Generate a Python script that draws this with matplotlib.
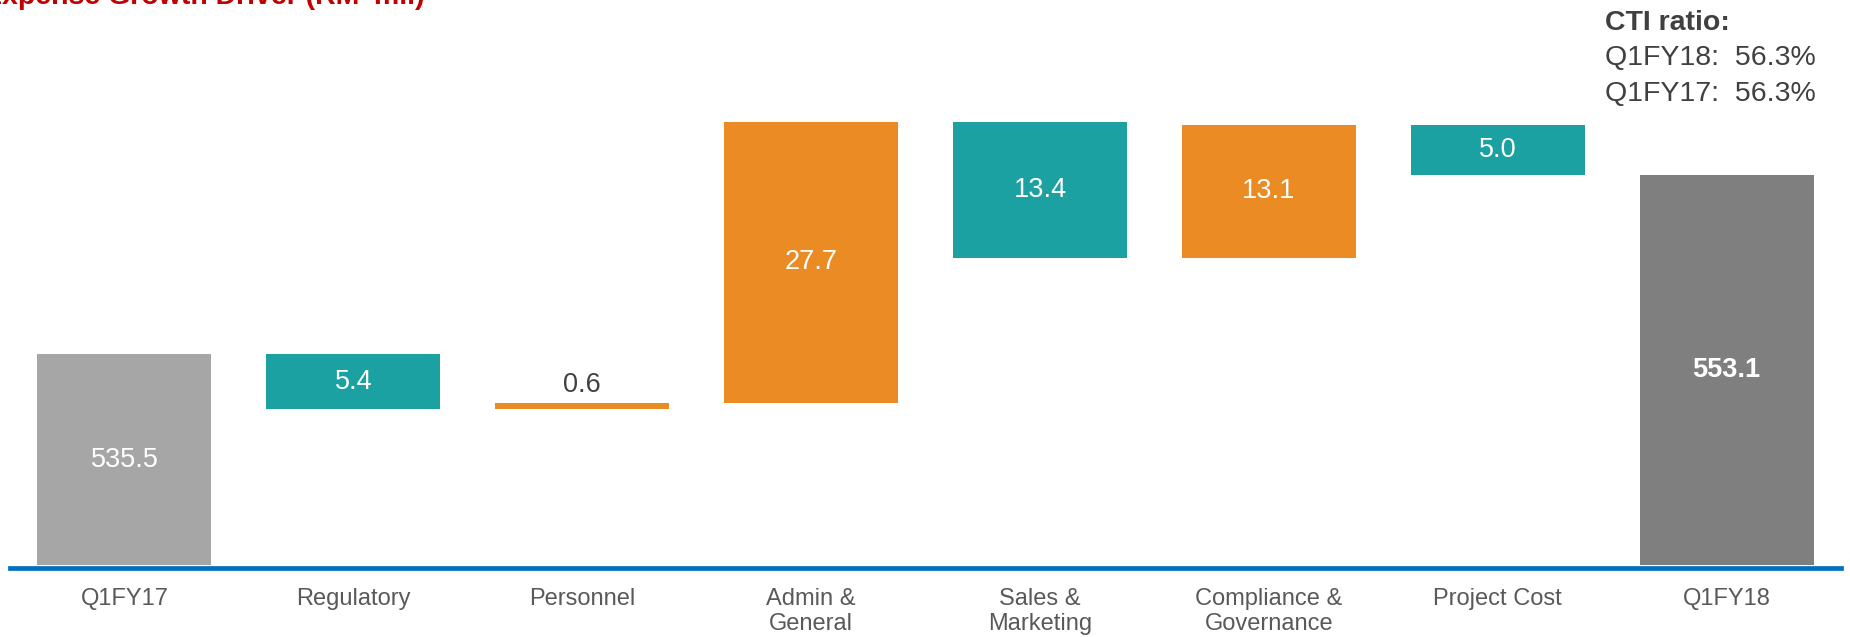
import matplotlib
matplotlib.use('Agg')
import matplotlib.pyplot as plt

plt.rcParams['font.family'] = ['Liberation Sans', 'DejaVu Sans']

categories = ['Q1FY17', 'Regulatory', 'Personnel', 'Admin &\nGeneral', 'Sales &\nMarketing',
              'Compliance &\nGovernance', 'Project Cost', 'Q1FY18']
start_value = 535.5
changes = [-5.4, 0.6, 27.7, -13.4, 13.1, -5.0]
end_value = 553.1

cti_lines = ['Q1FY18:  56.3%', 'Q1FY17:  56.3%']

GREY_START = '#A6A6A6'
GREY_END = '#7F7F7F'
TEAL = '#1BA1A1'
ORANGE = '#EB8B23'
BLUE = '#0070C0'

fig = plt.figure(figsize=(18.5, 6.37), dpi=100)
ax = fig.add_axes([10 / 1850, 1 - 565 / 637, 1831 / 1850, 565 / 637])

w = 0.76
# start bar
ax.bar(0, start_value, width=w, color=GREY_START, zorder=2)
ax.text(0, (start_value + 514.8) / 2, f'{start_value:.1f}', ha='center', va='center',
        color='white', fontsize=19.5)

# floating change bars
running = start_value
for i, d in enumerate(changes, start=1):
    lo = min(running, running + d)
    col = TEAL if d < 0 else ORANGE
    ax.bar(i, abs(d), bottom=lo, width=w, color=col, zorder=2)
    if abs(d) < 2:
        ax.annotate(f'{abs(d):.1f}', xy=(i, lo + abs(d)), xytext=(0, 8),
                    textcoords='offset points', ha='center', va='baseline',
                    color='#404040', fontsize=19.5)
    else:
        ax.text(i, lo + abs(d) / 2, f'{abs(d):.1f}', ha='center', va='center',
                color='white', fontsize=19.5)
    running += d

# end bar
n = len(categories) - 1
ax.bar(n, end_value, width=w, color=GREY_END, zorder=2)
ax.text(n, (end_value + 514.8) / 2, f'{end_value:.1f}', ha='center', va='center',
        color='white', fontsize=19.5, fontweight='bold')

ax.set_xlim(-0.5, 7.5)
ax.set_ylim(514.8, 570.35)
ax.tick_params(axis='x', length=0, pad=14.5, labelsize=17, labelcolor='#595959')
ax.set_xticks(range(len(categories)))
ax.set_xticklabels(categories, linespacing=1.3)
ax.set_yticks([])
for s in ['top', 'right', 'left']:
    ax.spines[s].set_visible(False)
ax.spines['bottom'].set_color(BLUE)
ax.spines['bottom'].set_linewidth(3.4)
ax.spines['bottom'].set_position(('outward', 2))
ax.patch.set_alpha(0)

fig.text(-17 / 1850, 1 - 4 / 637, "Expense Growth Driver (RM 'mil)", fontsize=20.5,
         fontweight='bold', color='#C00000', ha='left', va='baseline')

fig.text(1605 / 1850, 1 - 30 / 637, 'CTI ratio:', fontsize=20.5, fontweight='bold',
         color='#404040', ha='left', va='baseline')
for k, line in enumerate(cti_lines):
    fig.text(1605 / 1850, 1 - (65 + 36 * k) / 637, line, fontsize=20.5,
             color='#404040', ha='left', va='baseline')

fig.savefig('out.png', dpi=100)
